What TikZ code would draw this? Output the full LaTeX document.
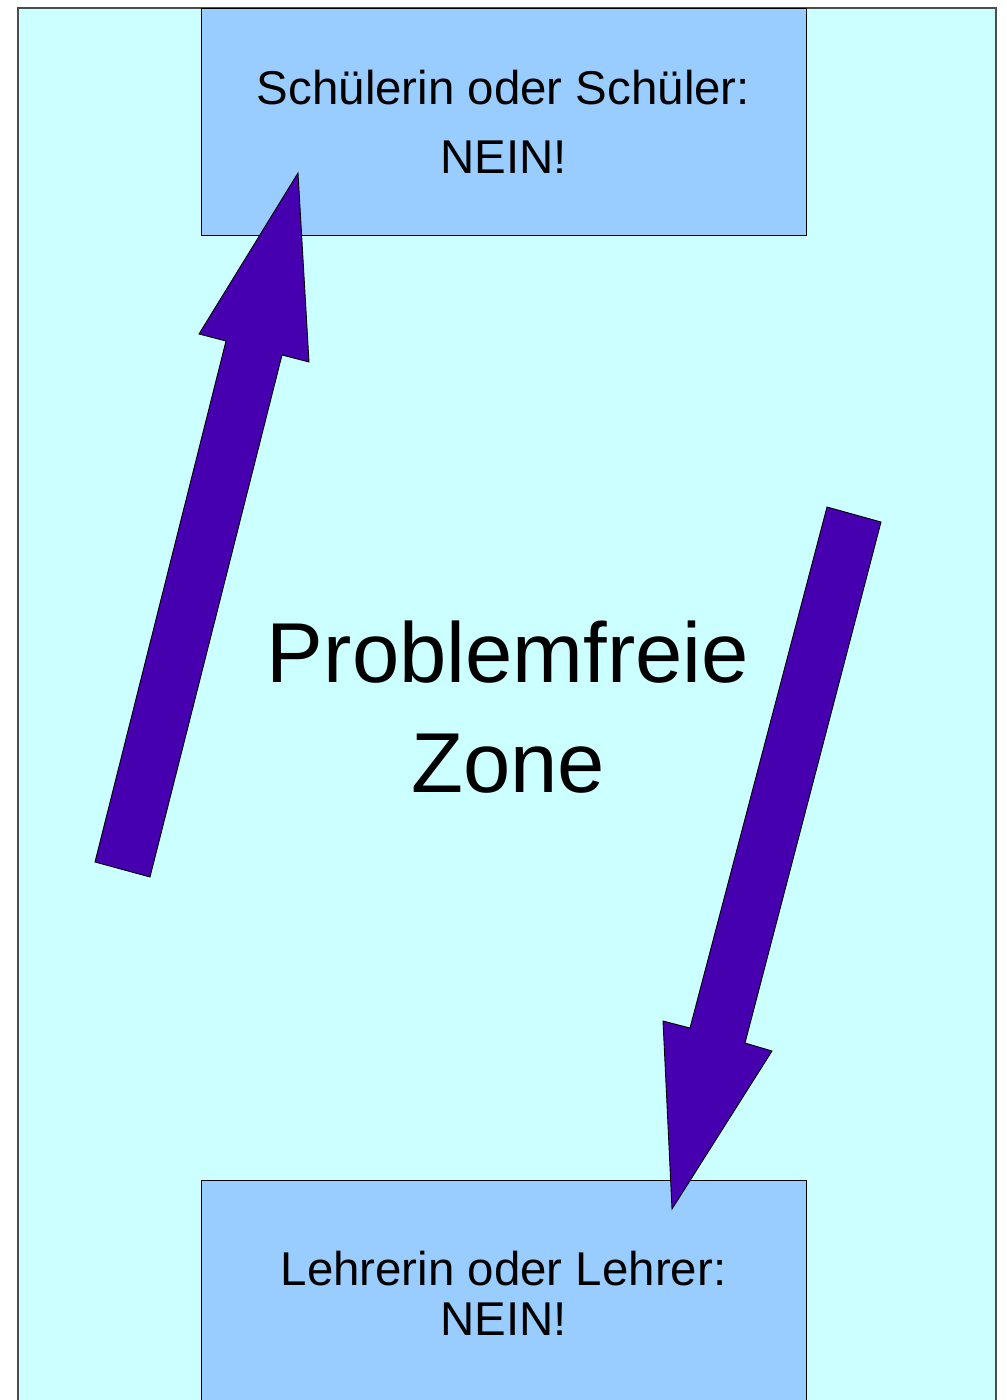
\documentclass[tikz,border=0pt]{standalone}
\usepackage{fontspec}
\setmainfont{Liberation Sans}
\definecolor{zonebg}{HTML}{CCFFFF}
\definecolor{boxbg}{HTML}{99CCFF}
\definecolor{arrowfill}{HTML}{4700B0}

\begin{document}
\begin{tikzpicture}[x=0.02cm, y=-0.02cm,
  b/.style={draw, line width=0.5pt, fill=boxbg, minimum width=12.1cm, minimum height=4.54cm,
    align=center, inner sep=0pt, font=\fontsize{27}{39.3}\selectfont},
  big/.style={align=center, inner sep=0pt, font=\fontsize{48.4}{62.6}\selectfont},
  blockarrow/.style={draw, line width=0.5pt, fill=arrowfill, line join=miter}]
  \useasboundingbox (0,0) rectangle (1007,1400);
  \clip (0,0) rectangle (1007,1400);
  % Hintergrund
  \draw[fill=zonebg, draw=black!70, line width=0.6pt] (18,8) rectangle (996,1420);
  \node[b] (top) at (503.5,121.5) {Schülerin oder Schüler:\\NEIN!};
  \node[b, font=\fontsize{27}{28.5}\selectfont] (bot) at (503.5,1293.5) {Lehrerin oder Lehrer:\\NEIN!};
  \node[big] (zone) at (508,707) {Problemfreie\\Zone};
  % Pfeile
  \draw[blockarrow] (95,862) -- (226,341) -- (199,334) -- (298,173) -- (309,362)
    -- (282,355) -- (150,877) -- cycle;
  \draw[blockarrow] (827,507) -- (690,1028) -- (663,1021) -- (672,1209) -- (772,1051)
    -- (745,1043) -- (881,522) -- cycle;
\end{tikzpicture}
\end{document}
